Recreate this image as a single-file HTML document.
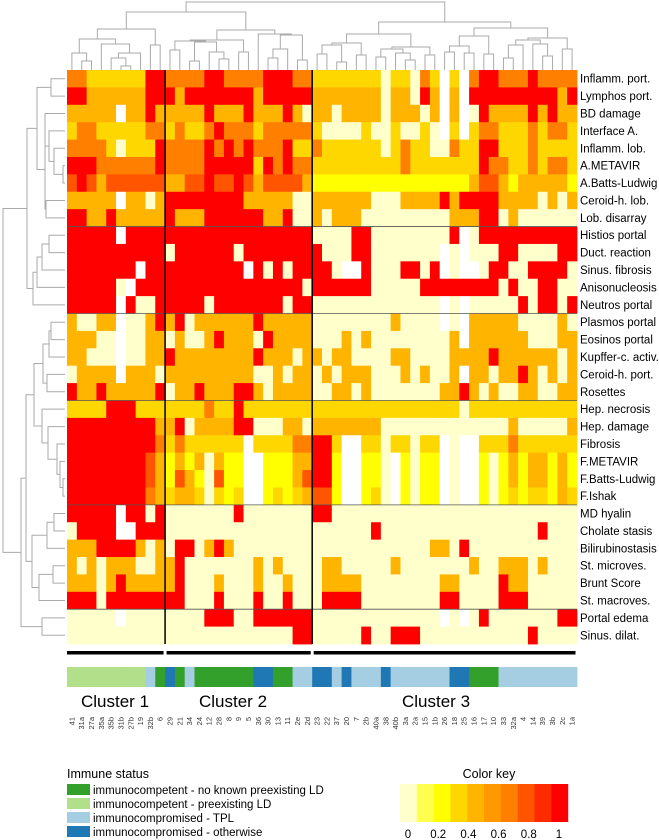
<!DOCTYPE html>
<html><head><meta charset="utf-8">
<style>
html,body{margin:0;padding:0;background:#fff;}
svg{display:block;font-family:"Liberation Sans",Arial,sans-serif;}
</style></head>
<body>
<svg id="chart" width="659" height="840" viewBox="0 0 659 840" xmlns="http://www.w3.org/2000/svg">
<g id="dendroTop"></g>
<g id="dendroLeft"></g>
<g id="cells"></g>
<g id="grid"></g>
<g id="rowlab"></g>
<g id="clbars"></g>
<g id="annot"></g>
<g id="collab"></g>
<text x="81" y="707" font-size="17">Cluster 1</text>
<text x="199" y="707" font-size="17">Cluster 2</text>
<text x="402" y="707" font-size="17">Cluster 3</text>
<g>
<text x="67" y="778" font-size="12.5">Immune status</text>
<rect x="67" y="784" width="23" height="11" fill="#33a02c"/>
<text x="93" y="794" font-size="11.5">immunocompetent - no known preexisting LD</text>
<rect x="67" y="798" width="23" height="11" fill="#b2df8a"/>
<text x="93" y="808" font-size="11.5">immunocompetent - preexisting LD</text>
<rect x="67" y="812" width="23" height="11" fill="#a6cee3"/>
<text x="93" y="822" font-size="11.5">immunocompromised - TPL</text>
<rect x="67" y="826" width="23" height="11" fill="#1f78b4"/>
<text x="93" y="836" font-size="11.5">immunocompromised - otherwise</text>
</g>
<g id="key">
<text x="489" y="778" font-size="12.5" text-anchor="middle">Color key</text>
</g>
</svg>
<script>
const rowLabels = ["Inflamm. port.","Lymphos port.","BD damage","Interface A.","Inflamm. lob.","A.METAVIR","A.Batts-Ludwig","Ceroid-h. lob.","Lob. disarray","Histios portal","Duct. reaction","Sinus. fibrosis","Anisonucleosis","Neutros portal","Plasmos portal","Eosinos portal","Kupffer-c. activ.","Ceroid-h. port.","Rosettes","Hep. necrosis","Hep. damage","Fibrosis","F.METAVIR","F.Batts-Ludwig","F.Ishak","MD hyalin","Cholate stasis","Bilirubinostasis","St. microves.","Brunt Score","St. macroves.","Portal edema","Sinus. dilat."];
const colLabels = ["41","31a","27a","35a","35b","31b","27b","19","32b","6","29","21","34","24","12","28","8","9","5","36","30","13","11","2e","2d","23","22","37","20","7","2b","40a","38","40b","3a","2a","15","1b","26","18","25","16","17","10","33","32a","4","14","39","3b","2c","1a"];
const immuneStatus = [1,1,1,1,1,1,1,1,2,0,3,0,2,0,0,0,0,0,0,3,3,0,0,2,2,3,3,2,3,2,2,2,3,2,2,2,2,2,2,3,3,0,0,0,2,2,2,2,2,2,2,2];
const clusterSizes = [10,15,27];
const keyTicks = [0,0.2,0.4,0.6,0.8,1];
const values = [
[.65,.65,.35,.35,.35,.35,.35,.35,1,1, .65,.65,.65,.65,1,1,.65,.65,.65,.65,1,1,1,.65,.65, .35,.35,.35,.35,.35,.35,.35,0,.35,.35,0,.65,.35,null,.35,null,.65,1,1,.65,.65,.65,1,.65,.65,.65,.65],
[1,1,.45,.45,.45,.45,.45,.45,1,1, 1,.45,1,1,1,1,1,1,1,.45,1,1,1,1,1, .45,.45,.45,.45,.45,.45,.45,0,.45,.45,0,1,.45,null,.45,null,1,1,1,1,1,1,1,1,1,.45,1],
[.45,.45,.45,.45,.45,null,.45,.45,1,.45, .45,.45,.45,.45,1,.45,.45,.45,1,.45,.45,.45,1,.45,0, .45,.45,0,.45,.45,.45,.45,0,.45,.45,.45,0,.45,null,.45,null,0,1,.45,.45,.45,.45,1,.45,1,.45,.45],
[.35,.65,.65,.35,.35,.35,.35,.35,.65,.65, .35,.65,.35,.35,.65,1,.65,.65,.65,.35,.65,.65,.65,.65,.65, .35,0,0,0,0,.35,0,0,.35,0,0,.35,0,null,.35,null,.35,.65,.65,.35,.35,.35,.65,.35,.65,.65,.35],
[.65,.65,.65,.65,.35,0,.35,.35,.35,1, .65,.65,.65,.65,1,.65,1,.65,1,.65,.65,.65,1,.35,.35, .65,.35,.35,.35,.35,.35,.35,0,.35,.65,.35,.35,0,0,.65,.35,.35,1,1,.35,.35,.35,.65,.35,.35,.35,.35],
[1,1,1,.65,.65,.65,.65,.65,.65,1, .65,.65,.65,.65,1,1,1,1,1,.35,1,.65,1,.65,.65, .35,.35,.35,.35,.35,.35,.35,.35,.35,.65,.35,.35,.35,.35,.35,.35,.35,1,.65,.65,.35,.35,.65,.35,.65,.65,.35],
[.75,1,.75,.45,.75,.75,.75,.75,.75,.75, .45,.45,.75,.75,1,.75,.75,1,.75,.45,.75,.75,.75,.75,.45, .25,.25,.25,.25,.25,.25,.25,.25,.25,.25,.25,.25,.25,.25,.25,.25,.45,.75,.75,.45,.25,.45,.45,.45,.45,.45,.25],
[.45,.45,.45,.45,.45,null,.45,.45,0,.45, 1,1,1,1,1,1,1,1,.45,.45,.45,.45,.45,0,0, .45,.45,.45,.45,.45,.45,0,0,0,.45,.45,.45,.45,1,.45,1,1,1,1,.45,.45,.45,.45,0,.45,0,.45],
[1,1,.45,.45,1,.45,.45,.45,.45,.45, 1,.45,.45,.45,1,1,1,1,1,1,.45,.45,1,0,0, .45,0,.45,.45,.45,0,0,0,0,0,0,0,0,0,.45,.45,.45,1,1,0,.45,0,0,0,0,0,0],
[1,1,1,1,1,null,1,1,1,1, 1,1,1,1,1,1,1,1,1,1,1,1,1,1,1, 0,0,0,0,1,1,0,0,0,0,0,0,0,0,1,null,0,1,1,1,1,1,1,1,1,1,1],
[1,1,1,1,1,1,1,1,1,1, 0,1,1,1,1,1,1,0,1,1,1,1,1,1,1, 1,0,0,0,1,1,0,0,0,0,0,0,0,null,0,null,0,0,0,1,1,0,0,0,0,1,1],
[1,1,1,1,1,1,1,null,1,1, 1,1,1,1,1,1,1,1,null,1,0,1,0,1,1, 1,1,0,null,null,1,0,0,0,1,1,0,1,null,0,null,null,0,1,1,0,0,1,1,1,1,0],
[1,1,1,1,1,0,null,1,1,1, 1,1,1,1,1,1,1,1,1,1,1,1,1,1,0, 1,1,1,1,1,1,0,0,0,0,0,1,1,1,1,1,1,1,1,0,1,0,0,1,1,0,0],
[1,1,1,1,1,null,1,0,0,1, 1,1,1,1,0,1,1,1,1,1,1,1,0,1,1, 0,0,0,0,0,0,0,0,0,0,0,0,0,null,0,null,0,0,0,0,0,1,0,1,1,0,1],
[.45,0,0,.45,.45,null,0,0,.45,1, .45,1,0,.45,.45,.45,.45,.45,.45,1,.45,.45,.45,.45,.45, 0,0,0,0,0,0,0,0,.45,0,0,0,0,null,0,null,.45,.45,.45,.45,.45,0,0,0,0,.45,0],
[.45,.45,.45,0,0,null,0,0,.45,.45, 0,.45,0,0,.45,1,.45,.45,.45,0,1,.45,.45,.45,.45, 0,0,0,.45,0,.45,0,0,0,0,0,0,0,0,.45,null,.45,.45,.45,.45,.45,.45,0,0,0,.45,.45],
[.45,.45,0,0,0,null,0,0,.45,.45, 1,.45,.45,.45,.45,.45,.45,.45,.45,1,.45,.45,.45,0,.45, .45,0,.45,.45,0,0,0,0,.45,.45,0,0,0,0,.45,.45,.45,.45,1,.45,.45,.45,.45,.45,.45,0,.45],
[0,.45,.45,.45,.45,null,.45,.45,.45,0, .45,.45,.45,.45,.45,.45,.45,.45,.45,0,0,.45,0,.45,.45, 0,.45,0,.45,.45,.45,0,0,0,.45,0,.45,0,0,.45,null,.45,.45,0,.45,.45,1,.45,0,.45,0,.45],
[1,.45,.45,1,.45,.45,.45,.45,.45,1, 0,.45,.45,1,.45,.45,.45,1,1,.45,0,.45,.45,.45,.45, 0,0,.45,.45,0,.45,0,0,0,0,0,0,0,.45,.45,1,.45,0,.45,0,0,.45,.45,0,0,.45,.45],
[.35,.35,.35,.35,1,1,1,.35,.35,.35, .35,.35,.35,.35,.65,.35,.35,1,.35,.35,.35,.35,.35,.35,.35, .35,.35,.35,.35,.35,.35,.35,.35,.35,.35,.35,.35,.35,.35,.35,0,.35,.35,.35,.35,.35,.35,.35,.35,.35,.35,.35],
[1,1,1,1,1,1,1,1,1,.45, .45,1,0,.45,.45,.45,.45,1,1,0,0,0,.45,.45,0, .45,.45,.45,.45,.45,.45,.45,0,0,0,0,0,0,0,0,0,0,0,0,0,.45,0,0,0,0,0,.45],
[1,1,1,1,1,1,1,1,1,.65, .35,.65,.35,.35,.35,.35,.35,.35,null,.35,.35,.35,.35,.65,.65, 1,1,.35,null,null,.35,.35,0,.35,.35,0,.35,.35,null,0,null,null,.35,.35,.35,.65,.35,.35,.35,.35,.35,.35],
[1,1,1,1,1,1,1,1,.75,.45, .25,.45,.25,.45,0,.45,.25,.25,null,null,.25,.25,.25,.45,.45, 1,1,.25,null,null,.25,.25,0,null,.25,0,.25,.25,null,0,null,null,.25,0,.25,.45,.25,.45,.45,.25,.45,.25],
[1,1,1,1,1,1,1,1,.75,.45, .25,.75,.45,.25,0,.75,.25,.25,null,null,.25,.25,.25,.45,.75, 1,1,.25,null,null,.25,.25,0,null,.25,0,.25,.25,null,0,null,null,.25,0,.25,.45,.25,.45,.45,.25,.45,.25],
[1,1,1,1,1,1,1,1,.65,.45, .35,.45,.45,.35,0,.35,.25,.35,null,null,.25,.35,.25,.35,.45, .75,.75,.25,null,null,.25,.35,0,null,.25,0,.25,.25,null,0,null,null,.25,0,.25,.35,.25,.35,.35,.25,.45,.35],
[1,1,1,1,1,null,1,1,0,1, 0,0,0,0,0,0,0,1,0,0,0,0,0,0,0, 1,1,0,0,0,0,0,0,0,0,0,0,0,0,0,0,0,0,0,0,0,0,0,0,0,0,0],
[0,1,1,1,1,null,null,1,1,1, 0,0,0,0,0,0,0,0,0,0,0,0,0,0,0, 0,0,0,0,0,0,1,0,0,0,0,0,0,0,0,0,0,0,0,0,0,0,0,1,0,0,0],
[.45,.45,.45,1,1,1,1,.45,0,.45, 0,1,1,0,.45,1,.45,0,0,0,0,0,0,0,0, 0,0,0,0,0,0,0,0,0,0,0,0,.45,.45,0,1,0,0,0,0,0,0,0,0,0,0,0],
[.45,0,.45,0,.45,.45,.45,0,0,.45, .45,1,0,0,0,0,0,0,0,.45,0,.45,0,0,0, 0,.45,.45,0,0,0,0,0,.45,0,0,0,0,0,0,0,.45,0,0,.45,.45,.45,0,.45,0,0,0],
[.45,.45,.45,0,.45,1,.45,.45,.45,.45, .45,1,0,0,0,.45,0,0,0,.45,0,0,.45,0,0, 0,.45,.45,.45,.45,0,0,0,0,0,0,0,0,.45,.45,0,0,0,0,1,.45,.45,0,0,0,0,0],
[1,1,1,0,1,1,1,1,1,1, 1,1,0,0,0,1,0,0,0,1,0,0,1,0,0, 0,1,1,1,1,0,0,0,0,0,0,0,0,1,1,0,0,0,0,1,1,1,0,0,0,0,0],
[0,0,0,0,0,null,0,0,0,0, 0,0,0,0,1,1,1,0,0,1,1,1,1,1,1, 0,0,0,0,0,0,0,0,0,0,0,0,0,null,0,null,0,1,0,0,0,0,0,0,0,1,1],
[0,0,0,0,0,0,0,0,0,0, 0,0,0,0,0,0,0,0,0,0,0,0,0,1,1, 0,0,0,0,0,1,0,0,1,1,1,0,0,0,0,0,0,0,0,0,0,0,1,0,0,0,0]
];
const topTree = [2,[12,[29,[39,[53,0,[61,1,2]],[44,3,[53,[58,4,[66,5,6]],7]]],[45,8,9]],[30,[40,[41,[50,10,11],[42,[61,12,13],[52,14,[59,15,16]]]],[52,17,18]],[34,19,[35,[49,[58,20,21],22],[60,23,24]]]]],[22,[34,[43,[45,[54,25,26],[62,27,28]],[55,29,30]],[47,[49,[57,31,32],[53,33,[60,34,35]]],[55,36,37]]],[28,[36,[46,[52,38,39],[53,40,41]],[54,42,43]],[38,[40,[45,[58,44,45],46],[44,47,[56,48,49]]],[49,50,51]]]]];
const leftTree = [3,[27,[37,[51,0,1],[45,[45,2,[49,3,[54,4,[63,5,6]]]],[46,7,8]]],[33,[37,[42,[49,9,10],11],12],13]],[21,[26,[34,[43,[49,[51,14,15],16],[47,17,18]],[42,19,[48,20,[57,21,[60,22,[63,23,24]]]]]],[32,[47,[54,25,26],27],[39,[53,28,29],30]]],[42,31,32]]];

const NS="http://www.w3.org/2000/svg";
const X0=67, X1=577, Y0=70, Y1=644;
const nC=colLabels.length, nR=rowLabels.length;
const cw=(X1-X0)/nC, rh=(Y1-Y0)/nR;
const xS=i=>X0+i*cw, yS=j=>Y0+j*rh;
const bins=["#ffffcc","#ffff4d","#ffff00","#ffd700","#ffb400","#ff9900","#ff7f00","#ff5500","#ff2b00","#ff0000"];
const colorOf=v=>bins[Math.min(9,Math.max(0,Math.floor(v*10+1e-9)))];
const statusColors=["#33a02c","#b2df8a","#a6cee3","#1f78b4"];
function mk(tag,attrs,parent){const e=document.createElementNS(NS,tag);for(const k in attrs)e.setAttribute(k,attrs[k]);parent.appendChild(e);return e;}

const cells=document.getElementById('cells');
for(let j=0;j<nR;j++)for(let i=0;i<nC;i++){
  const v=values[j][i];
  const r=mk('rect',{x:xS(i).toFixed(2),y:yS(j).toFixed(2),width:(cw+0.4).toFixed(2),height:(rh+0.4).toFixed(2),fill:v===null?"#ffffff":colorOf(v)},cells);
  
  
}
const grid=document.getElementById('grid');
[9,14,19,25,31].forEach(k=>{const l=mk('line',{x1:X0,x2:X1,y1:yS(k),y2:yS(k),stroke:"#555","stroke-width":0.8},grid);
  
  });
let acc=0;
const clb=document.getElementById('clbars');
clusterSizes.forEach((s,k)=>{
  if(k>0){const l=mk('line',{x1:xS(acc),x2:xS(acc),y1:Y0,y2:Y1,stroke:"#000","stroke-width":1.5},grid);
    
    }
  const b=mk('rect',{x:xS(acc)+(k>0?1.5:0),y:651,width:s*cw-(k>0?1.5:0)-1.5,height:3.5,fill:"#000"},clb);
  
  
  acc+=s;
});
const rl=document.getElementById('rowlab');
rowLabels.forEach((t,j)=>{const e=mk('text',{x:580,y:(yS(j)+rh/2+4).toFixed(1),"font-size":11.5},rl);e.textContent=t;
  
  });
const an=document.getElementById('annot');
immuneStatus.forEach((s,i)=>{const r=mk('rect',{x:xS(i).toFixed(2),y:667,width:(cw+0.4).toFixed(2),height:20,fill:statusColors[s]},an);
  
  });
const cl=document.getElementById('collab');
colLabels.forEach((t,i)=>{const cx=xS(i)+cw/2+2.5;
  const e=mk('text',{x:0,y:0,"font-size":7.5,"text-anchor":"end",fill:"#333",transform:`translate(${cx.toFixed(1)},717) rotate(-90)`},cl);e.textContent=t;
  
  });
function drawTree(tree,g,horizontalLeaves){
  function walk(n){
    if(typeof n==="number"){return horizontalLeaves?{p:xS(n)+cw/2,h:Y0}:{p:yS(n)+rh/2,h:65};}
    const a=walk(n[1]),b=walk(n[2]),h=n[0];
    let d;
    if(horizontalLeaves) d=`M${a.p},${a.h}V${h}H${b.p}V${b.h}`;
    else d=`M${a.h},${a.p}H${h}V${b.p}H${b.h}`;
    const p=mk('path',{d:d,fill:"none",stroke:"#aaa","stroke-width":1},g);
    
    
    return {p:(a.p+b.p)/2,h:h};
  }
  walk(tree);
}
drawTree(topTree,document.getElementById('dendroTop'),true);
drawTree(leftTree,document.getElementById('dendroLeft'),false);
const key=document.getElementById('key');
bins.forEach((c,k)=>{const r=mk('rect',{x:400+k*16.8,y:784,width:17,height:38,fill:c},key);
  
  });
keyTicks.forEach(v=>{const e=mk('text',{x:(408+v*151).toFixed(1),y:838,"font-size":11.5,"text-anchor":"middle"},key);e.textContent=String(v);
  
  });
</script>
</body></html>
